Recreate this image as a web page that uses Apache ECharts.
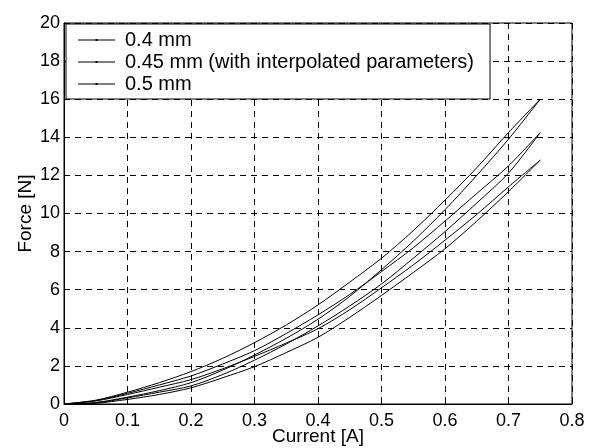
<!DOCTYPE html>
<html>
<head>
<meta charset="utf-8">
<script src="https://cdn.jsdelivr.net/npm/echarts@6/dist/echarts.min.js"></script>
<style>
  html, body { margin: 0; padding: 0; background: #fff; }
  #force { width: 592px; height: 448px; }
</style>
</head>
<body>
<div id="force"></div>
<script>
// current [A] sample points
var current = [0, 0.05, 0.1, 0.15, 0.2, 0.25, 0.3, 0.35, 0.4, 0.45, 0.5, 0.55, 0.6, 0.65, 0.7, 0.75];
// force [N], upper and lower branch of each loop
var up04 = [0, 0.2, 0.62, 1.12, 1.7, 2.4, 3.22, 4.15, 5.2, 6.4, 7.65, 9.1, 10.7, 12.4, 14.25, 16.0];
var lo04 = [0, 0.08, 0.36, 0.7, 1.12, 1.78, 2.57, 3.45, 4.45, 5.65, 7.05, 8.55, 10.2, 12.0, 13.9, 16.0];
var up045 = [0, 0.18, 0.56, 1.0, 1.47, 2.1, 2.8, 3.7, 4.68, 5.75, 6.95, 8.2, 9.6, 11.05, 12.5, 14.25];
var lo045 = [0, 0.06, 0.32, 0.62, 0.95, 1.55, 2.3, 3.15, 4.1, 5.15, 6.3, 7.65, 9.05, 10.55, 12.12, 14.25];
var up05 = [0, 0.16, 0.5, 0.88, 1.28, 1.85, 2.5, 3.2, 3.95, 4.95, 6.1, 7.3, 8.6, 9.95, 11.4, 12.8];
var lo05 = [0, 0.04, 0.24, 0.5, 0.85, 1.38, 1.96, 2.7, 3.5, 4.55, 5.7, 6.9, 8.15, 9.6, 11.15, 12.8];
var names = ['0.4 mm', '0.45 mm (with interpolated parameters)', '0.5 mm'];
var xTicks = [0, 0.1, 0.2, 0.3, 0.4, 0.5, 0.6, 0.7, 0.8];
var yTicks = [0, 2, 4, 6, 8, 10, 12, 14, 16, 18, 20];

function loop(lo, up) {
  var pts = [];
  for (var i = 0; i < current.length; i++) pts.push([current[i], lo[i]]); // rising branch
  for (var j = current.length - 2; j >= 0; j--) pts.push([current[j], up[j]]); // falling branch
  return pts;
}

var font = 'Liberation Sans, Arial, sans-serif';
var loops = [loop(lo04, up04), loop(lo045, up045), loop(lo05, up05)];
var series = [];
for (var k = 0; k < 3; k++) {
  series.push({
    name: names[k],
    type: 'line',
    data: loops[k],
    smooth: 0.3,
    showSymbol: false,
    color: '#000',
    lineStyle: { color: '#000', width: 1 },
    itemStyle: { color: '#000' },
    animation: false
  });
}

var chart = echarts.init(document.getElementById('force'));
chart.setOption({
  animation: false,
  grid: {
    left: 64, right: 20, top: 23, bottom: 44,
    containLabel: false, outerBoundsMode: 'none',
    show: true, borderColor: '#000', borderWidth: 1
  },
  legend: {
    orient: 'vertical',
    left: 66,
    top: 24,
    icon: 'path://M0,1h37v1H0z M17.5,0.5h2v2h-2z',
    itemWidth: 37,
    itemHeight: 3,
    itemGap: 2,
    padding: [6, 16, 5, 12],
    borderColor: '#000',
    borderWidth: 1,
    backgroundColor: '#fff',
    itemStyle: { color: '#000', borderWidth: 0 },
    lineStyle: { width: 0 },
    textStyle: { fontFamily: font, fontSize: 20, color: '#000', padding: [0, 0, 0, 5] },
    data: names
  },
  xAxis: {
    type: 'value',
    min: 0, max: 0.8, interval: 0.1,
    name: 'Current [A]',
    nameLocation: 'middle',
    nameGap: 23,
    nameMoveOverlap: false,
    nameTextStyle: { fontFamily: font, fontSize: 19, color: '#000' },
    axisLine: { lineStyle: { color: '#000' } },
    axisTick: { inside: true, length: 5, lineStyle: { color: '#000' } },
    axisLabel: {
      fontFamily: font, fontSize: 18, color: '#000', margin: 8,
      formatter: function (v) { return xTicks.indexOf(Math.round(v * 10) / 10) >= 0 ? String(Math.round(v * 10) / 10) : ''; }
    },
    splitLine: { show: true, lineStyle: { color: '#000', type: [6, 5], width: 1 } }
  },
  yAxis: {
    type: 'value',
    min: 0, max: 20, interval: 2,
    name: 'Force [N]',
    nameLocation: 'middle',
    nameGap: 29,
    nameMoveOverlap: false,
    nameTextStyle: { fontFamily: font, fontSize: 19, color: '#000' },
    axisLine: { show: true, lineStyle: { color: '#000' } },
    axisTick: { show: true, inside: true, length: 5, lineStyle: { color: '#000' } },
    axisLabel: {
      fontFamily: font, fontSize: 18, color: '#000', margin: 4,
      formatter: function (v) { return yTicks.indexOf(v) >= 0 ? String(v) : ''; }
    },
    splitLine: { show: true, lineStyle: { color: '#000', type: [6, 5], width: 1 } }
  },
  series: series
});
</script>
</body>
</html>
